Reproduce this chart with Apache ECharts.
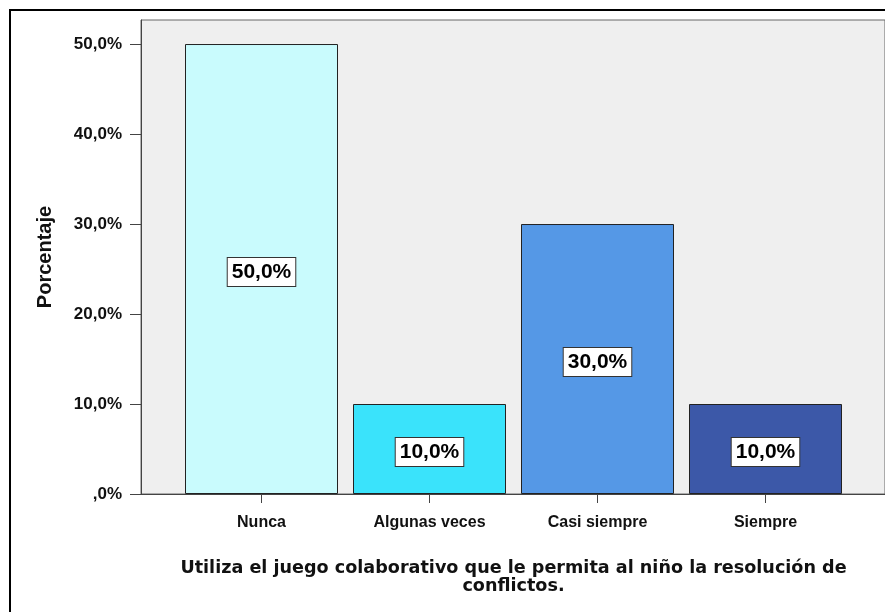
<!DOCTYPE html>
<html>
<head>
<meta charset="utf-8">
<script src="https://cdn.jsdelivr.net/npm/echarts@6/dist/echarts.min.js"></script>
<style>
  html, body { margin: 0; padding: 0; background: #fff; }
  #chart { width: 885px; height: 612px; }
</style>
</head>
<body>
<div id="chart"></div>
<script>
// Response categories and their percentages
const categories = ['Nunca', 'Algunas veces', 'Casi siempre', 'Siempre'];
const percentages = [50.0, 10.0, 30.0, 10.0];
const barColors = ['#C9FBFD', '#3AE3FB', '#5598E6', '#3C58A8'];
const yTicks = [0, 10, 20, 30, 40, 50];
const yAxisTitle = 'Porcentaje';
const xAxisTitle = 'Utiliza el juego colaborativo que le permita al niño la resolución de\nconflictos.';

const FONT = '"Liberation Sans", Arial, sans-serif';
const TITLE_FONT = '"DejaVu Sans", Verdana, sans-serif';
const Y_MAX = 52.67;

function pct(v) {
  const s = v.toFixed(1).replace('.', ',');
  return (v === 0 ? ',0' : s) + '%';
}

const chart = echarts.init(document.getElementById('chart'));
chart.setOption({
  animation: false,
  backgroundColor: '#ffffff',
  graphic: [{
    type: 'rect',
    shape: { x: 10, y: 10, width: 920, height: 700 },
    style: { fill: 'none', stroke: '#000', lineWidth: 2 },
    z: 100
  }],
  grid: [
    { left: 141, top: 20, right: -30, bottom: 118, show: true,
      backgroundColor: '#EFEFEF', borderColor: '#666', borderWidth: 1 },
    { left: 177.5, top: 20, width: 672, bottom: 118 }
  ],
  xAxis: [
    { gridIndex: 0, type: 'value', min: 0, max: 1,
      axisLine: { show: true, lineStyle: { color: '#444', width: 1 } },
      axisTick: { show: false }, axisLabel: { show: false }, splitLine: { show: false } },
    { gridIndex: 1, type: 'category', data: categories,
      axisLine: { show: false },
      axisTick: { show: true, alignWithLabel: true, length: 9, lineStyle: { color: '#444' } },
      axisLabel: { margin: 21, fontFamily: FONT, fontWeight: 'bold', fontSize: 16, color: '#111' },
      name: xAxisTitle, nameLocation: 'middle', nameGap: 65,
      nameTextStyle: { fontFamily: TITLE_FONT, fontWeight: 'bold', fontSize: 17.6, color: '#111',
        lineHeight: 18.5, align: 'center' } }
  ],
  yAxis: [
    { gridIndex: 0, type: 'value', min: 0, max: Y_MAX,
      axisLine: { show: true, lineStyle: { color: '#444', width: 1 } },
      axisTick: { show: true, length: 11, customValues: yTicks, lineStyle: { color: '#444' } },
      axisLabel: { customValues: yTicks, margin: 19, formatter: pct,
        fontFamily: FONT, fontWeight: 'bold', fontSize: 17, color: '#111' },
      splitLine: { show: false },
      name: yAxisTitle, nameLocation: 'middle', nameRotate: 90, nameGap: 86,
      nameTextStyle: { fontFamily: FONT, fontWeight: 'bold', fontSize: 20, color: '#111' } },
    { gridIndex: 1, type: 'value', min: 0, max: Y_MAX, show: false }
  ],
  series: [{
    type: 'bar',
    xAxisIndex: 1, yAxisIndex: 1,
    barWidth: 153,
    data: percentages.map((v, i) => ({
      value: v,
      itemStyle: { color: barColors[i], borderColor: '#222', borderWidth: 1 }
    })),
    label: {
      show: true, position: 'inside', offset: [0, 3],
      formatter: p => pct(p.value),
      backgroundColor: '#fff', borderColor: '#333', borderWidth: 1,
      padding: [4, 4, 3, 4], fontFamily: FONT, fontWeight: 'bold', fontSize: 21, color: '#000'
    }
  }]
});
</script>
</body>
</html>
